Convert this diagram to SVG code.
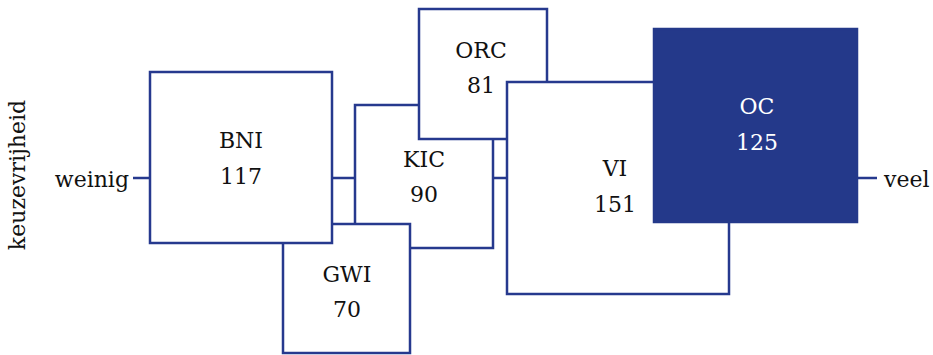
<svg xmlns="http://www.w3.org/2000/svg" width="933" height="355" viewBox="0 0 933 355">
<style>
.box{fill:#fff;stroke:#26398e;stroke-width:2.5}
.dark{fill:#24398a;stroke:#24398a;stroke-width:2.5}
.conn{stroke:#26398e;stroke-width:2.5;fill:none}
text{font-family:"DejaVu Serif","Liberation Serif",serif;font-size:22px;fill:#111}
.c{text-anchor:middle}
.w{fill:#fff}
</style>
<rect width="933" height="355" fill="#fff"/>
<g id="connectors">
<line class="conn" x1="133" y1="178" x2="877" y2="178"/>
</g>
<g id="KIC"><rect class="box" x="355" y="105" width="138" height="143"/><text class="c" x="424" y="167">KIC</text><text class="c" x="424" y="202">90</text></g>
<g id="GWI"><rect class="box" x="283" y="224" width="127" height="129"/><text class="c" x="347" y="282">GWI</text><text class="c" x="347" y="317">70</text></g>
<g id="BNI"><rect class="box" x="150" y="72" width="182" height="171"/><text class="c" x="241" y="148">BNI</text><text class="c" x="241" y="184">117</text></g>
<g id="ORC"><rect class="box" x="419" y="9" width="128" height="130"/><text class="c" x="481" y="58">ORC</text><text class="c" x="481" y="93">81</text></g>
<g id="VI"><rect class="box" x="507" y="82" width="222" height="212"/><text class="c" x="615" y="176">VI</text><text class="c" x="615" y="212">151</text></g>
<g id="OC"><rect class="dark" x="654" y="29" width="203" height="193"/><text class="c w" x="757" y="114">OC</text><text class="c w" x="757" y="150">125</text></g>
<g id="labels">
<text x="129" y="187" text-anchor="end">weinig</text>
<text x="884" y="187">veel</text>
<text class="c" transform="translate(25,175) rotate(-90)">keuzevrijheid</text>
</g>
</svg>
